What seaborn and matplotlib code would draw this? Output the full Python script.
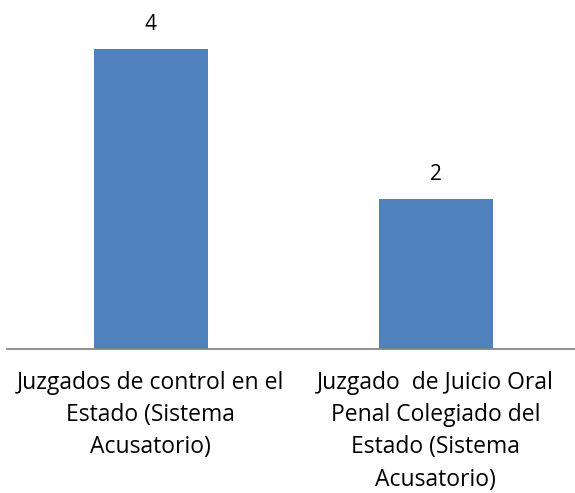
import seaborn as sns
import matplotlib.pyplot as plt
import pandas as pd

categorias = ["Juzgados de control en el\nEstado (Sistema\nAcusatorio)",
              "Juzgado  de Juicio Oral\nPenal Colegiado del\nEstado (Sistema\nAcusatorio)"]
valores = [4, 2]

df = pd.DataFrame({"categoria": categorias, "valor": valores})

sns.set_style("white")
plt.rcParams['font.family'] = ['Open Sans', 'DejaVu Sans']

fig = plt.figure(figsize=(5.75, 4.93), dpi=100)
ax = fig.add_axes([7 / 575, 1 - 349 / 493, 1 - 7 / 575, 349 / 493])

sns.barplot(data=df, x="categoria", y="valor", color="#4F81BD", saturation=1,
            width=0.40, linewidth=0, ax=ax)

for i, v in enumerate(valores):
    ax.annotate(str(v), (i, v), xytext=(0, 10), textcoords="offset points",
                ha="center", va="bottom", fontsize=15, color="black")

ax.set_xlim(-0.5035, 1.489)
ax.set_ylim(0, 349 / 75)
ax.set_xlabel("")
ax.set_ylabel("")
ax.set_yticks([])
ax.tick_params(axis="x", length=0, pad=16, labelsize=16.5, labelcolor="black")
for lbl in ax.get_xticklabels():
    lbl.set_linespacing(1.45)
    lbl.set_multialignment("center")
for s in ["top", "right", "left"]:
    ax.spines[s].set_visible(False)
ax.spines["bottom"].set_color("#868686")
ax.spines["bottom"].set_linewidth(1.3)

fig.savefig("out.png", dpi=100)
